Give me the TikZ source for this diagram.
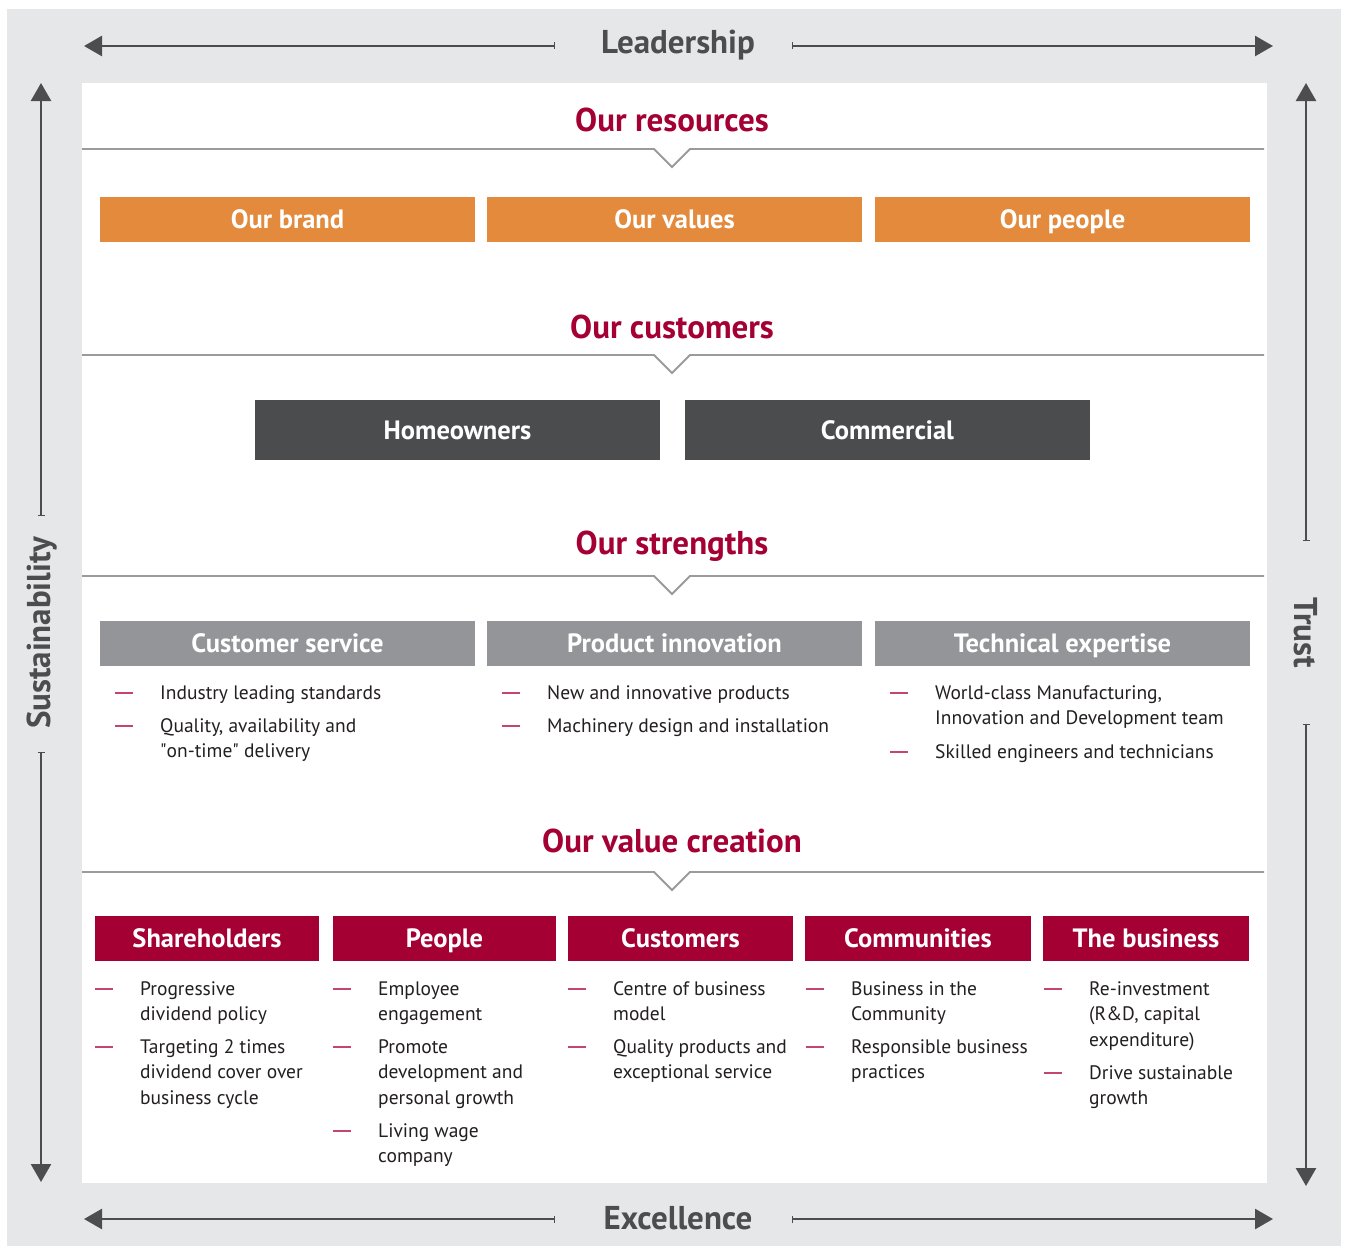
\documentclass[tikz,border=0pt]{standalone}
\usepackage{fontspec}
\setmainfont{PT Sans}
\usetikzlibrary{arrows.meta}
\definecolor{crimson}{HTML}{A50034}
\definecolor{framegray}{HTML}{E6E7E8}
\definecolor{axisgray}{HTML}{4D4D4F}
\definecolor{orangebox}{HTML}{E38A3C}
\definecolor{darkbox}{HTML}{4B4C4E}
\definecolor{greybox}{HTML}{939598}
\definecolor{rulegray}{HTML}{9B9B9B}
\definecolor{bodytext}{HTML}{231F20}
\definecolor{dashred}{HTML}{C4456E}
\newcommand{\itemdash}{\strut\llap{\textcolor{dashred}{\rule[5.5pt]{18pt}{1.6pt}}\hspace{27pt}}}
\tikzset{
  heading/.style={font=\bfseries\fontsize{33}{38}\selectfont,text=crimson,inner sep=0},
  axislabel/.style={font=\bfseries\fontsize{33}{38}\selectfont,text=axisgray,inner sep=0},
  box/.style={text=white,font=\bfseries\fontsize{26.5}{30}\selectfont,text height=20pt,text depth=2pt,minimum height=45pt,inner sep=0},
  resbox/.style={box,fill=orangebox,minimum width=375pt},
  custbox/.style={box,fill=darkbox,minimum width=405pt,minimum height=60pt},
  strbox/.style={box,fill=greybox,minimum width=375pt},
  valbox/.style={box,fill=crimson},
  point/.style={anchor=north west,align=left,inner sep=0,text=bodytext,font=\fontsize{19.5}{25.5}\selectfont},
  axis/.style={draw=axisgray,line width=2.6pt,{Bar[width=7pt,line width=1.2pt]}-{Triangle[width=20pt,length=18pt]}},
  divider/.style={draw=rulegray,line width=1.8pt}
}
\begin{document}
\begin{tikzpicture}[x=1pt,y=-1pt]
\useasboundingbox (0,0) rectangle (1346,1247);
\fill[framegray] (7,9) rectangle (1341,1246);
\fill[white] (82,83) rectangle (1267,1183);
% frame labels and arrows
\node[axislabel] (lead) at (678,45) {Leadership};
\node[axislabel] (exc) at (678,1218) {Excellence};
\node[axislabel,rotate=90] (sus) at (42,633) {Sustainability};
\node[axislabel,rotate=-90] (trust) at (1306,633) {Trust};
\coordinate (leadL) at (555,46); \coordinate (leadLt) at (84,46);
\coordinate (leadR) at (792,46); \coordinate (leadRt) at (1273,46);
\coordinate (excL) at (555,1219); \coordinate (excLt) at (84,1219);
\coordinate (excR) at (792,1219); \coordinate (excRt) at (1273,1219);
\coordinate (susU) at (41,516); \coordinate (susUt) at (41,83);
\coordinate (susD) at (41,752); \coordinate (susDt) at (41,1182);
\coordinate (trustU) at (1306,541); \coordinate (trustUt) at (1306,83);
\coordinate (trustD) at (1306,724); \coordinate (trustDt) at (1306,1186);
\draw[axis] (leadL)--(leadLt);
\draw[axis] (leadR)--(leadRt);
\draw[axis] (excL)--(excLt);
\draw[axis] (excR)--(excRt);
\draw[axis] (susU)--(susUt);
\draw[axis] (susD)--(susDt);
\draw[axis] (trustU)--(trustUt);
\draw[axis] (trustD)--(trustDt);
% resources
\node[heading] (res) at (672,120) {Our resources};
\draw[divider] (82,149)--(654,149)--(672,167)--(690,149)--(1264,149);
\node[resbox] (brand) at (287.5,219.5) {Our brand};
\node[resbox] (values) at (674.5,219.5) {Our values};
\node[resbox] (people) at (1062.5,219.5) {Our people};
% customers
\node[heading] (cust) at (672,327) {Our customers};
\draw[divider] (82,355)--(654,355)--(672,373)--(690,355)--(1264,355);
\node[custbox] (home) at (457.5,430) {Homeowners};
\node[custbox] (comm) at (887.5,430) {Commercial};
% strengths
\node[heading] (str) at (672,546) {Our strengths};
\draw[divider] (82,576)--(654,576)--(672,594)--(690,576)--(1264,576);
\node[strbox] (serv) at (287.5,643.5) {Customer service};
\node[strbox] (innov) at (674.5,643.5) {Product innovation};
\node[strbox] (tech) at (1062.5,643.5) {Technical expertise};
\node[point] (serv1) at (160,681) {\itemdash Industry leading standards};
\node[point] (serv2) at (160,714) {\itemdash Quality, availability and\\\textquotedbl on-time\textquotedbl{} delivery};
\node[point] (innov1) at (547,681) {\itemdash New and innovative products};
\node[point] (innov2) at (547,714) {\itemdash Machinery design and installation};
\node[point] (tech1) at (935,681) {\itemdash World-class Manufacturing,\\Innovation and Development team};
\node[point] (tech2) at (935,740) {\itemdash Skilled engineers and technicians};
% value creation
\node[heading] (val) at (672,841) {Our value creation};
\draw[divider] (82,872)--(654,872)--(672,890)--(690,872)--(1264,872);
\node[valbox,minimum width=224pt] (share) at (207,938.5) {Shareholders};
\node[valbox,minimum width=223pt] (staff) at (444.5,938.5) {People};
\node[valbox,minimum width=225pt] (clients) at (680.5,938.5) {Customers};
\node[valbox,minimum width=226pt] (commun) at (918,938.5) {Communities};
\node[valbox,minimum width=206pt] (biz) at (1146,938.5) {The business};
\node[point] (share1) at (140,977) {\itemdash Progressive\\dividend policy};
\node[point] (share2) at (140,1035) {\itemdash Targeting 2 times\\dividend cover over\\business cycle};
\node[point] (staff1) at (378,977) {\itemdash Employee\\engagement};
\node[point] (staff2) at (378,1035) {\itemdash Promote\\development and\\personal growth};
\node[point] (staff3) at (378,1119) {\itemdash Living wage\\company};
\node[point] (clients1) at (613,977) {\itemdash Centre of business\\model};
\node[point] (clients2) at (613,1035) {\itemdash Quality products and\\exceptional service};
\node[point] (commun1) at (851,977) {\itemdash Business in the\\Community};
\node[point] (commun2) at (851,1035) {\itemdash Responsible business\\practices};
\node[point] (biz1) at (1089,977) {\itemdash Re-investment\\(R\&D, capital\\expenditure)};
\node[point] (biz2) at (1089,1061) {\itemdash Drive sustainable\\growth};
\end{tikzpicture}
\end{document}
